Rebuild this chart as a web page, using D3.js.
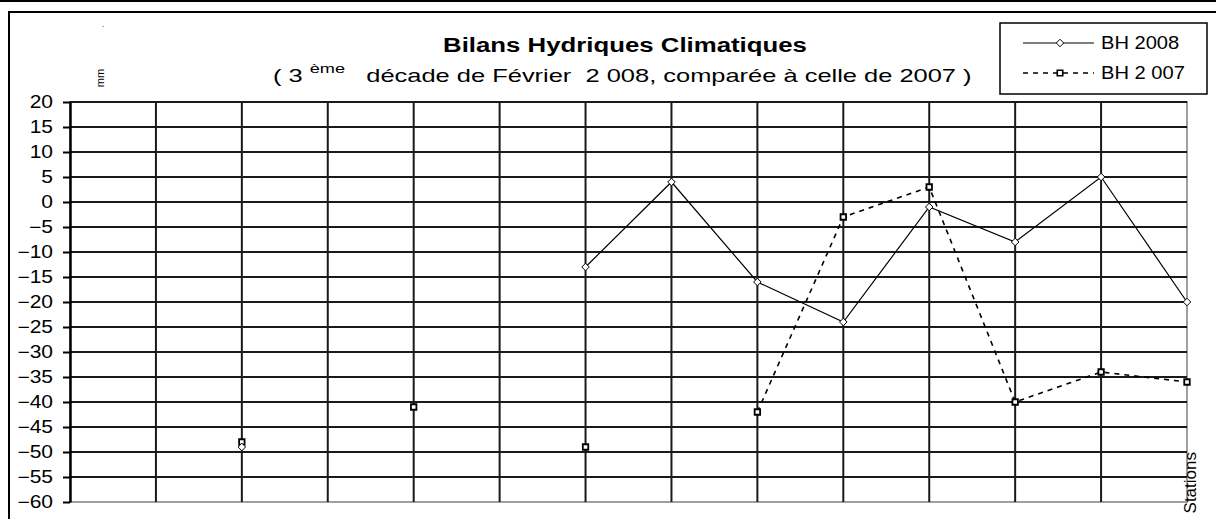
<!DOCTYPE html>
<html>
<head>
<meta charset="utf-8">
<script src="https://cdn.jsdelivr.net/npm/d3@7"></script>
<style>
  body { margin: 0; background: #fff; }
  svg { display: block; font-family: 'Liberation Sans', Arial, sans-serif; }
  text { white-space: pre; }
</style>
</head>
<body>
<div id="chart"></div>
<script>
// Bilans hydriques climatiques - 3e decade de fevrier 2008 vs 2007

const stations = ['S1', 'S2', 'S3', 'S4', 'S5', 'S6', 'S7', 'S8', 'S9', 'S10', 'S11', 'S12', 'S13', 'S14'];
const bh2008 = [null, null, -49, null, null, null, -13, 4, -16, -24, -1, -8, 5, -20];
const bh2007 = [null, null, -48, null, -41, null, -49, null, -42, -3, 3, -40, -34, -36];
const yTicks = [20, 15, 10, 5, 0, -5, -10, -15, -20, -25, -30, -35, -40, -45, -50, -55, -60];
const seriesNames = ['BH 2008', 'BH 2 007'];

const W = 1216, H = 519;
const plot = {left: 70, right: 1187, top: 102, bottom: 502};

// the source image text is drawn wide: stretch a text horizontally around ax
function stretch(sel, ax, k) {
  sel.attr('transform', `translate(${ax},0) scale(${k},1) translate(${-ax},0)`);
}
function stretchTo(sel, ax, target) {
  const w = sel.node().getBBox().width;
  stretch(sel, ax, target / w);
}

const svg = d3.select('#chart')
  .append('svg')
  .attr('width', W)
  .attr('height', H);

// outer frame
svg.append('line')
  .attr('x1', 0).attr('x2', W)
  .attr('y1', 1).attr('y2', 1)
  .attr('stroke', '#000')
  .attr('stroke-width', 2);

svg.append('rect')
  .attr('x', 9).attr('y', 12)
  .attr('width', W + 20).attr('height', H)
  .attr('fill', 'none')
  .attr('stroke', '#000')
  .attr('stroke-width', 2);

const x = d3.scalePoint()
  .domain(stations)
  .range([plot.left, plot.right]);

const y = d3.scaleLinear()
  .domain([-60, 20])
  .range([plot.bottom, plot.top]);

// plot area border (grey)
svg.append('rect')
  .attr('x', plot.left).attr('y', plot.top)
  .attr('width', plot.right - plot.left)
  .attr('height', plot.bottom - plot.top)
  .attr('fill', 'none')
  .attr('stroke', '#a0a0a0')
  .attr('stroke-width', 2);

// horizontal grid
svg.append('g')
  .selectAll('line')
  .data(yTicks.filter(d => d > -60))
  .enter()
  .append('line')
  .attr('x1', plot.left).attr('x2', plot.right)
  .attr('y1', d => y(d)).attr('y2', d => y(d))
  .attr('stroke', '#1a1a1a')
  .attr('stroke-width', 2);

// vertical grid
svg.append('g')
  .selectAll('line')
  .data(stations.slice(1, -1))
  .enter()
  .append('line')
  .attr('x1', d => x(d)).attr('x2', d => x(d))
  .attr('y1', plot.top).attr('y2', plot.bottom)
  .attr('stroke', '#1a1a1a')
  .attr('stroke-width', 2);

// y axis
const yAxis = svg.append('g')
  .attr('transform', `translate(${plot.left},0)`)
  .call(d3.axisLeft(y).tickValues(yTicks).tickSize(7).tickPadding(10).tickSizeOuter(0));

yAxis.select('.domain')
  .attr('stroke', '#000')
  .attr('stroke-width', 2.5);
yAxis.selectAll('.tick line')
  .attr('stroke', '#000')
  .attr('stroke-width', 2);
yAxis.selectAll('.tick text')
  .attr('fill', '#000')
  .attr('x', 0)
  .attr('transform', 'translate(-17,0) scale(1.2,1)')
  .style('font-size', '17.5px')
  .style('font-family', "'Liberation Sans', Arial, sans-serif");

// series
const line = d3.line()
  .defined(d => d.v != null)
  .x(d => x(d.s))
  .y(d => y(d.v));

const data08 = stations.map((s, i) => ({s, v: bh2008[i]}));
const data07 = stations.map((s, i) => ({s, v: bh2007[i]}));

svg.append('path')
  .datum(data07)
  .attr('fill', 'none')
  .attr('stroke', '#000')
  .attr('stroke-width', 1.6)
  .attr('stroke-dasharray', '5,5')
  .attr('d', line);

svg.append('path')
  .datum(data08)
  .attr('fill', 'none')
  .attr('stroke', '#000')
  .attr('stroke-width', 1.2)
  .attr('d', line);

const diamond = d3.symbol().type(d3.symbolDiamond2).size(36);
const square = d3.symbol().type(d3.symbolSquare).size(30);

svg.append('g')
  .selectAll('path')
  .data(data07.filter(d => d.v != null))
  .enter()
  .append('path')
  .attr('transform', d => `translate(${x(d.s)},${y(d.v)})`)
  .attr('d', square)
  .attr('fill', '#fff')
  .attr('stroke', '#000')
  .attr('stroke-width', 1.8);

svg.append('g')
  .selectAll('path')
  .data(data08.filter(d => d.v != null))
  .enter()
  .append('path')
  .attr('transform', d => `translate(${x(d.s)},${y(d.v)})`)
  .attr('d', diamond)
  .attr('fill', '#fff')
  .attr('stroke', '#000')
  .attr('stroke-width', 1);

// titles
const title = svg.append('text')
  .attr('x', 625).attr('y', 52)
  .attr('text-anchor', 'middle')
  .style('font-size', '20px')
  .style('font-weight', 'bold')
  .text('Bilans Hydriques Climatiques');
stretchTo(title, 625, 364);

const sub = svg.append('text')
  .attr('x', 273).attr('y', 82)
  .style('font-size', '17.5px');
sub.append('tspan').text('( 3 ');
sub.append('tspan').attr('dy', -9).style('font-size', '12.5px').text('ème');
sub.append('tspan').attr('dy', 9).text('   décade de Février  2 008, comparée à celle de 2007 )');
stretchTo(sub, 273, 699);

// unit label and axis title
svg.append('text')
  .attr('transform', 'translate(104,78) rotate(-90)')
  .attr('text-anchor', 'middle')
  .style('font-size', '11px')
  .text('mm');

svg.append('text')
  .attr('x', 102).attr('y', 27)
  .style('font-size', '8px')
  .text('.');

svg.append('text')
  .attr('transform', 'translate(1196,452) rotate(-90)')
  .attr('text-anchor', 'end')
  .style('font-size', '17px')
  .text('Stations');

// legend
const legend = svg.append('g');
legend.append('rect')
  .attr('x', 1000).attr('y', 23)
  .attr('width', 207).attr('height', 71)
  .attr('fill', '#fff')
  .attr('stroke', '#000')
  .attr('stroke-width', 1.5);

const legendRows = [
  {name: seriesNames[0], dash: null, sym: diamond, sw: 1},
  {name: seriesNames[1], dash: '5,5', sym: square, sw: 1.6}
];

legendRows.forEach((r, i) => {
  const ly = 43 + i * 30;
  legend.append('line')
    .attr('x1', 1023).attr('x2', 1094)
    .attr('y1', ly).attr('y2', ly)
    .attr('stroke', '#000')
    .attr('stroke-width', r.sw)
    .attr('stroke-dasharray', r.dash);
  legend.append('path')
    .attr('transform', `translate(1060,${ly})`)
    .attr('d', r.sym)
    .attr('fill', '#fff')
    .attr('stroke', '#000')
    .attr('stroke-width', r.sw);
  const t = legend.append('text')
    .attr('x', 1101).attr('y', ly)
    .attr('dy', '0.35em')
    .style('font-size', '17.5px')
    .text(r.name);
  stretch(t, 1101, 1.15);
});
</script>
</body>
</html>
